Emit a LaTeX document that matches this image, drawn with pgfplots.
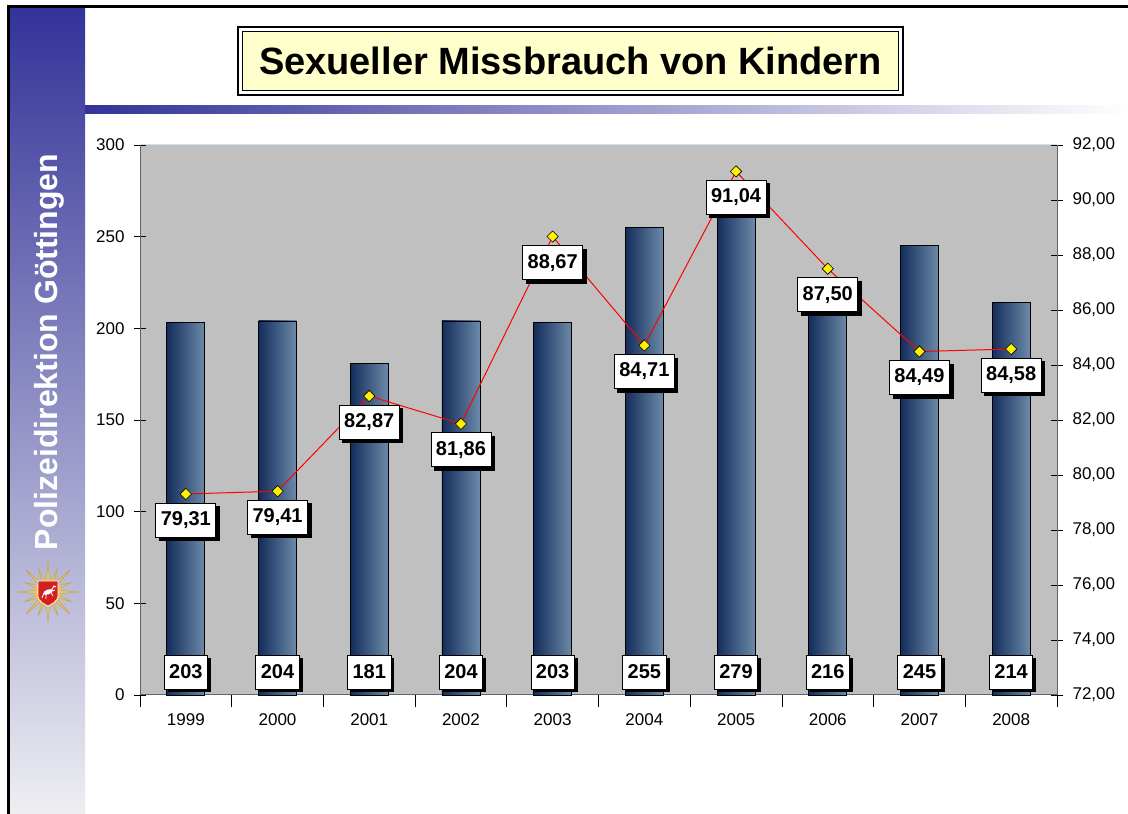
\documentclass[border=0pt]{standalone}
\usepackage{fontspec}
\setmainfont{Liberation Sans}
\usepackage{pgfplots}
\usepackage{pgfplotstable}
\pgfplotsset{compat=1.18}
\usetikzlibrary{shadows}
\definecolor{sideTop}{RGB}{51,51,153}
\definecolor{sideBot}{RGB}{238,238,242}
\definecolor{titleFill}{RGB}{255,255,204}
\definecolor{plotBg}{RGB}{192,192,192}
\definecolor{barL}{RGB}{20,45,92}
\definecolor{barR}{RGB}{108,138,168}
\definecolor{axisGray}{RGB}{90,100,112}
\definecolor{gold}{RGB}{236,200,90}
\definecolor{goldDark}{RGB}{190,150,50}
\definecolor{shieldRed}{RGB}{212,32,32}
\definecolor{topLine}{RGB}{200,225,240}

\pgfplotstableread{
x bars rate
0 203 79.31
1 204 79.41
2 181 82.87
3 204 81.86
4 203 88.67
5 255 84.71
6 279 91.04
7 216 87.50
8 245 84.49
9 214 84.58
}\datatable

\tikzset{valbox/.style={draw=black, line width=0.8pt, fill=white, text=black,
  font=\fontsize{20}{22}\selectfont\bfseries, inner xsep=5pt, inner ysep=0pt,
  minimum height=34pt,
  drop shadow={shadow xshift=3.5pt, shadow yshift=-3.5pt, fill=black, opacity=1}}}

\begin{document}
\begin{tikzpicture}
\fill[white] (0pt,0pt) rectangle (1128pt,814pt);
% sidebar
\shade[top color=sideTop, bottom color=sideBot] (9pt,0pt) rectangle (85pt,806pt);
% header stripe
\shade[left color=sideTop, right color=white] (85pt,700pt) rectangle (1128pt,708pt);
% borders
\draw[line width=3pt] (8.5pt,0pt) -- (8.5pt,807pt) -- (1128pt,807pt);
% sidebar text
\node[rotate=90, text=white, font=\fontsize{32}{34}\selectfont\bfseries] at (49pt,462pt) {Polizeidirektion Göttingen};
% logo
\begin{scope}[shift={(48pt,222pt)}, x=1pt, y=1pt]
  \foreach \a in {0,45,...,315} {\fill[gold, draw=goldDark, line width=0.3pt] (\a-11:9pt) -- (\a:31pt) -- (\a+11:9pt) -- cycle;}
  \foreach \a in {22.5,67.5,...,337.5} {\fill[gold, draw=goldDark, line width=0.3pt] (\a-11:9pt) -- (\a:25pt) -- (\a+11:9pt) -- cycle;}
  \fill[gold] (0,0) circle (13pt);
  \fill[shieldRed, draw=white, line width=0.6pt] (-10,11) -- (10,11) -- (10,-3) .. controls (10,-10) and (3,-12) .. (0,-14) .. controls (-3,-12) and (-10,-10) .. (-10,-3) -- cycle;
  \fill[white, rotate=20] (0,0) ellipse (5pt and 2.4pt);
  \draw[white, line width=1pt] (3,1) -- (6,6) -- (8,5);
  \draw[white, line width=0.8pt] (-4,-1) -- (-6,-6) (-2,-2) -- (-2,-7) (3,-0.5) -- (5,-4) (1,0) -- (7,2);
\end{scope}
% title
\draw[line width=2pt, fill=white] (238pt,719pt) rectangle (903pt,787pt);
\draw[line width=1.2pt, fill=titleFill] (242.5pt,723.5pt) rectangle (898.5pt,782.5pt);
\node[font=\fontsize{38}{40}\selectfont\bfseries] at (570.5pt,753pt) {Sexueller Missbrauch von Kindern};

\begin{axis}[
  at={(140pt,119pt)}, anchor=south west,
  width=917pt, height=550pt, scale only axis,
  xmin=-0.5, xmax=9.5, ymin=0, ymax=300,
  axis background/.style={fill=plotBg},
  axis x line*=bottom, axis y line*=left,
  axis line style={axisGray, line width=1pt},
  ytick={0,50,...,300},
  xtick={-0.5,0.5,...,9.5},
  xticklabels={1999,2000,2001,2002,2003,2004,2005,2006,2007,2008},
  x tick label as interval,
  tick align=center, major tick length=12pt,
  tick style={black, line width=0.8pt},
  ticklabel style={font=\fontsize{17}{20}\selectfont},
  yticklabel style={xshift=-6pt},
  xticklabel style={yshift=-3pt},
  /pgf/number format/assume math mode=true,
  clip=false,
  ybar, bar width=38pt, bar shift=0pt,
]
\pgfplotsinvokeforeach{0,...,9}{
\addplot[ybar, bar shift=0pt, draw=black, line width=0.8pt, left color=barL, right color=barR]
  table[x=x, y=bars, restrict x to domain=#1:#1] \datatable;
}
\addplot[ybar, bar shift=0pt, draw=none, fill=none,
  nodes near coords, visualization depends on=y \as \rawy,
  every node near coord/.append style={valbox, anchor=center, yshift={(23-1.833333*\rawy)*1pt}}]
  table[x=x, y=bars] \datatable;
\end{axis}

\begin{axis}[
  at={(140pt,119pt)}, anchor=south west,
  width=917pt, height=550pt, scale only axis,
  xmin=-0.5, xmax=9.5, ymin=72, ymax=92,
  axis x line=none, axis y line*=right,
  axis line style={axisGray, line width=1pt},
  ytick={72,74,...,92},
  tick align=center, major tick length=12pt,
  tick style={black, line width=0.8pt},
  ticklabel style={font=\fontsize{17}{20}\selectfont},
  yticklabel style={xshift=6pt},
  /pgf/number format/fixed, /pgf/number format/fixed zerofill,
  /pgf/number format/precision=2, /pgf/number format/use comma,
  /pgf/number format/assume math mode=true,
  clip=false,
]
\addplot[red, line width=1pt, mark=square*, mark size=4pt,
  mark options={rotate=45, fill=yellow, draw=black, line width=0.6pt, solid},
  nodes near coords, every node near coord/.append style={valbox, anchor=center, yshift=-26pt}]
  table[x=x, y=rate] \datatable;
\end{axis}
\draw[topLine, line width=1pt] (140pt,669pt) -- (1057pt,669pt);
\pgfresetboundingbox
\useasboundingbox (0pt,0pt) rectangle (1128pt,814pt);
\end{tikzpicture}
\end{document}
